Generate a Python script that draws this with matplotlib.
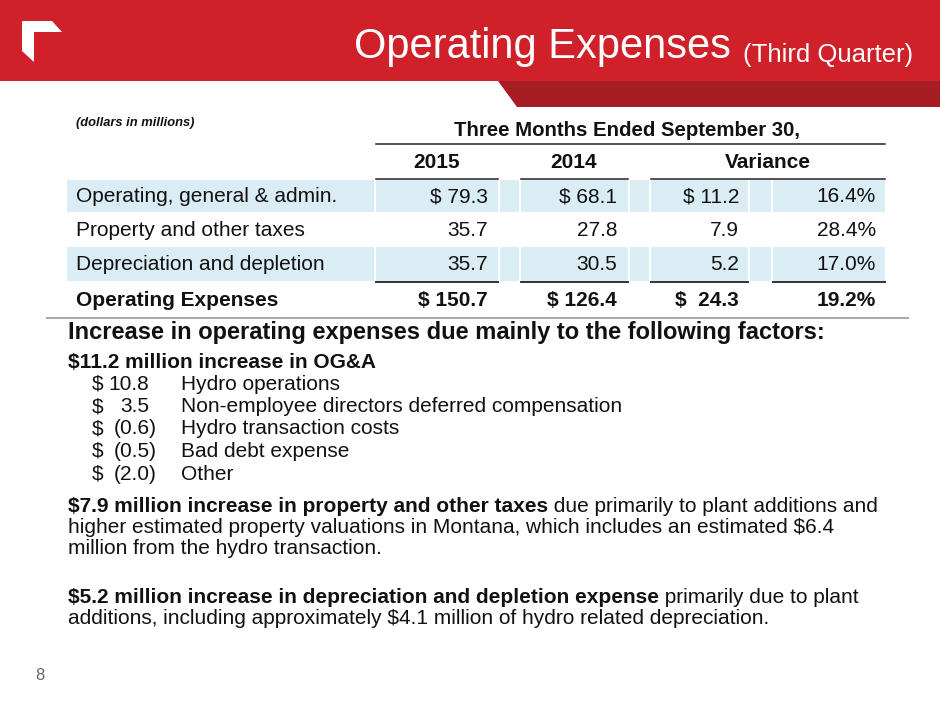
import matplotlib
matplotlib.use('Agg')
import matplotlib.pyplot as plt
from matplotlib.patches import Polygon, Rectangle

plt.rcParams['font.family'] = ['Liberation Sans', 'DejaVu Sans']

# Table data (dollars in millions)
row_labels = ['Operating, general & admin.', 'Property and other taxes',
              'Depreciation and depletion']
total_label = 'Operating Expenses'
vals_2015 = [79.3, 35.7, 35.7]
vals_2014 = [68.1, 27.8, 30.5]
var_amt = [11.2, 7.9, 5.2]
var_pct = [16.4, 28.4, 17.0]
tot_2015 = 150.7
tot_2014 = 126.4
tot_var = 24.3
tot_pct = 19.2

# OG&A breakdown
oga_amounts = [10.8, 3.5, -0.6, -0.5, -2.0]
oga_items = ['Hydro operations', 'Non-employee directors deferred compensation',
             'Hydro transaction costs', 'Bad debt expense', 'Other']

RED = '#D0202A'
DARK_RED = '#A81C23'
SHADE = '#DAEDF4'
TXT = '#111111'
FS = 15          # body text size

fig = plt.figure(figsize=(9.4, 7.05), dpi=100)
ax = fig.add_axes([0, 0, 1, 1])
ax.set_xlim(0, 940)
ax.set_ylim(705, 0)
ax.axis('off')

# header band
ax.add_patch(Rectangle((0, 0), 940, 81, color=RED, lw=0))
ax.add_patch(Polygon([(498, 81), (940, 81), (940, 107), (517, 107)],
                     closed=True, color=DARK_RED, lw=0))
ax.add_patch(Polygon([(22, 21), (52, 21), (62, 32), (34, 32), (34, 62), (22, 51)],
                     closed=True, color='white', lw=0))
t_sub = ax.text(913, 62, '(Third Quarter)', color='white', fontsize=18.5,
                ha='right', va='baseline')
ax.annotate('Operating Expenses ', xy=(0, 0), xycoords=t_sub,
            ha='right', va='bottom', color='white', fontsize=30)

# table
ax.text(76, 123, '(dollars in millions)', fontsize=9.3, fontweight='bold',
        style='italic', color=TXT, va='center')
ax.text(627, 130, 'Three Months Ended September 30,', fontsize=14.7,
        fontweight='bold', color=TXT, ha='center', va='center')
ax.plot([376, 885], [144, 144], color='#222222', lw=1.1)
for x, lab in [(437, '2015'), (574, '2014'), (768, 'Variance')]:
    ax.text(x, 162, lab, fontsize=FS, fontweight='bold', color=TXT,
            ha='center', va='center')
for x0, x1 in [(376, 498), (521, 628), (651, 885)]:
    ax.plot([x0, x1], [179, 179], color='#222222', lw=1.1)

cells = [(67, 374), (376, 498), (500, 519), (521, 628), (630, 649),
         (651, 748), (750, 771), (773, 885)]
row_tops = [180, 213, 247]
row_h = [32, 33, 34]
row_y = [197, 231, 265]
for i, (top, h) in enumerate(zip(row_tops, row_h)):
    if i % 2 == 0:
        for x0, x1 in cells:
            ax.add_patch(Rectangle((x0, top), x1 - x0, h, color=SHADE, lw=0))
    y = row_y[i]
    pre = '$ ' if i == 0 else ''
    ax.text(76, y, row_labels[i], fontsize=FS, color=TXT, va='center')
    ax.text(488, y, f'{pre}{vals_2015[i]:.1f}', fontsize=FS, color=TXT,
            ha='right', va='center')
    ax.text(617, y, f'{pre}{vals_2014[i]:.1f}', fontsize=FS, color=TXT,
            ha='right', va='center')
    ax.text(739, y, f'{pre}{var_amt[i]:.1f}', fontsize=FS, color=TXT,
            ha='right', va='center')
    ax.text(876, y, f'{var_pct[i]:.1f}%', fontsize=FS, color=TXT,
            ha='right', va='center')
for x0, x1 in [(376, 498), (521, 628), (651, 748), (773, 885)]:
    ax.plot([x0, x1], [282, 282], color='#333333', lw=1.4)

ty = 300
ax.text(76, ty, total_label, fontsize=FS, fontweight='bold', color=TXT, va='center')
ax.text(488, ty, f'$ {tot_2015:.1f}', fontsize=FS, fontweight='bold', color=TXT,
        ha='right', va='center')
ax.text(617, ty, f'$ {tot_2014:.1f}', fontsize=FS, fontweight='bold', color=TXT,
        ha='right', va='center')
ax.text(739, ty, f'$  {tot_var:.1f}', fontsize=FS, fontweight='bold', color=TXT,
        ha='right', va='center')
ax.text(876, ty, f'{tot_pct:.1f}%', fontsize=FS, fontweight='bold', color=TXT,
        ha='right', va='center')
ax.plot([47, 908], [318, 318], color='#AAAAAA', lw=1.5)

# commentary
ax.text(68, 333, 'Increase in operating expenses due mainly to the following factors:',
        fontsize=17, fontweight='bold', color=TXT, va='center')
ax.text(68, 362, '$11.2 million increase in OG&A', fontsize=FS,
        fontweight='bold', color=TXT, va='center')
for k, (amt, item) in enumerate(zip(oga_amounts, oga_items)):
    y = 384 + k * 22.5
    ax.text(92, y, '$', fontsize=FS, color=TXT, va='center')
    if amt < 0:
        ax.text(157, y, f'({-amt:.1f})', fontsize=FS, color=TXT,
                ha='right', va='center')
    else:
        ax.text(149, y, f'{amt:.1f}', fontsize=FS, color=TXT,
                ha='right', va='center')
    ax.text(181, y, item, fontsize=FS, color=TXT, va='center')


def mixed_line(x, y, bold, rest, size=FS):
    t = ax.text(x, y, bold, fontsize=size, fontweight='bold', color=TXT,
                va='baseline')
    if rest:
        ax.annotate(rest, xy=(1, 0), xycoords=t, ha='left', va='bottom',
                    fontsize=size, color=TXT)


mixed_line(68, 512, '$7.9 million increase in property and other taxes',
           ' due primarily to plant additions and')
ax.text(68, 533, 'higher estimated property valuations in Montana, which includes an estimated $6.4',
        fontsize=FS, color=TXT, va='baseline')
ax.text(68, 554, 'million from the hydro transaction.', fontsize=FS, color=TXT,
        va='baseline')
mixed_line(68, 603, '$5.2 million increase in depreciation and depletion expense',
           ' primarily due to plant')
ax.text(68, 624, 'additions, including approximately $4.1 million of hydro related depreciation.',
        fontsize=FS, color=TXT, va='baseline')

ax.text(40, 676, '8', fontsize=12, color='#666666', ha='center', va='center')

fig.savefig('out.png', dpi=100)
